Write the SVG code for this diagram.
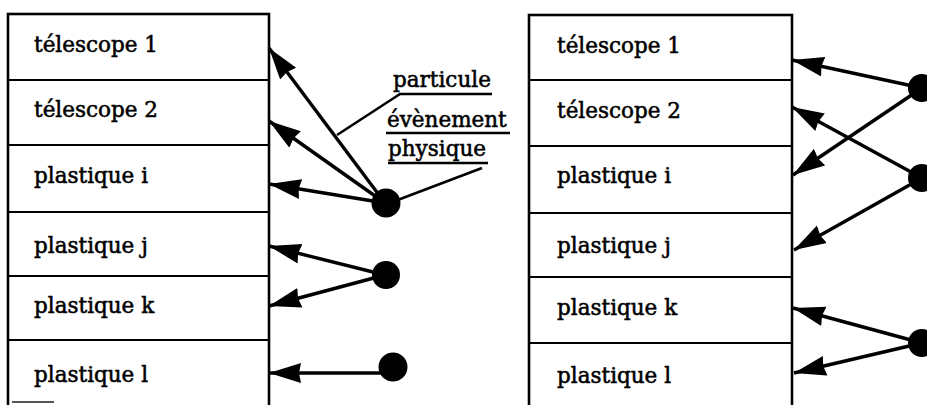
<svg xmlns="http://www.w3.org/2000/svg" width="927" height="405" viewBox="0 0 927 405">
<defs>
<style>
.frame{fill:#fff;stroke:#000;stroke-width:2.6}
.div{stroke:#000;stroke-width:2.2}
.lbl{font-family:DejaVu Serif,serif;font-size:21.5px;fill:#000;stroke:#000;stroke-width:0.55}
.edge{stroke:#000;stroke-width:3.4;fill:none;marker-end:url(#ah)}
.plain{stroke:#000;stroke-width:2.6;fill:none}
.dot{fill:#000}
</style>
<marker id="ah" markerUnits="userSpaceOnUse" markerWidth="34" markerHeight="22" viewBox="0 0 34 22" refX="32" refY="11" orient="auto">
<path d="M0,1 L32,11 L0,21 L2,11 Z" fill="#000"/>
</marker>
</defs>
<rect width="927" height="405" fill="#fff"/>

<g id="left-table">
<rect class="frame" x="8" y="14" width="261" height="400"/>
<line class="div" x1="8" y1="80" x2="269" y2="80"/>
<line class="div" x1="8" y1="145" x2="269" y2="145"/>
<line class="div" x1="8" y1="212" x2="269" y2="212"/>
<line class="div" x1="8" y1="276" x2="269" y2="276"/>
<line class="div" x1="8" y1="340" x2="269" y2="340"/>
<line x1="12" y1="402" x2="54" y2="402" stroke="#555" stroke-width="2"/>
</g>
<g id="L-telescope1"><text class="lbl" font-family="DejaVu Serif" x="34" y="52">télescope 1</text></g>
<g id="L-telescope2"><text class="lbl" font-family="DejaVu Serif" x="34" y="117">télescope 2</text></g>
<g id="L-plastique-i"><text class="lbl" font-family="DejaVu Serif" x="34" y="183">plastique i</text></g>
<g id="L-plastique-j"><text class="lbl" font-family="DejaVu Serif" x="34" y="253">plastique j</text></g>
<g id="L-plastique-k"><text class="lbl" font-family="DejaVu Serif" x="34" y="313">plastique k</text></g>
<g id="L-plastique-l"><text class="lbl" font-family="DejaVu Serif" x="34" y="382">plastique l</text></g>

<g id="right-table">
<rect class="frame" x="529" y="15" width="263" height="400"/>
<line class="div" x1="529" y1="80" x2="792" y2="80"/>
<line class="div" x1="529" y1="146" x2="792" y2="146"/>
<line class="div" x1="529" y1="213" x2="792" y2="213"/>
<line class="div" x1="529" y1="277" x2="792" y2="277"/>
<line class="div" x1="529" y1="343" x2="792" y2="343"/>
</g>
<g id="R-telescope1"><text class="lbl" font-family="DejaVu Serif" x="557" y="53">télescope 1</text></g>
<g id="R-telescope2"><text class="lbl" font-family="DejaVu Serif" x="557" y="118">télescope 2</text></g>
<g id="R-plastique-i"><text class="lbl" font-family="DejaVu Serif" x="557" y="183">plastique i</text></g>
<g id="R-plastique-j"><text class="lbl" font-family="DejaVu Serif" x="557" y="253">plastique j</text></g>
<g id="R-plastique-k"><text class="lbl" font-family="DejaVu Serif" x="557" y="315">plastique k</text></g>
<g id="R-plastique-l"><text class="lbl" font-family="DejaVu Serif" x="557" y="383">plastique l</text></g>

<g id="legend">
<text class="lbl" font-family="DejaVu Serif" x="393" y="87">particule</text>
<text class="lbl" font-family="DejaVu Serif" x="387" y="127">évènement</text>
<text class="lbl" font-family="DejaVu Serif" x="388" y="156">physique</text>
<line class="plain" x1="399" y1="94" x2="492" y2="94"/>
<line class="plain" x1="386" y1="133" x2="510" y2="133"/>
<line class="plain" x1="388" y1="163" x2="488" y2="163"/>
<polyline class="plain" points="337,135 400,94"/>
<line class="plain" x1="395" y1="201" x2="482" y2="168"/>
</g>

<g id="connectors">
<line class="edge" x1="385" y1="203" x2="269" y2="48"/>
<line class="edge" x1="385" y1="203" x2="269" y2="121"/>
<line class="edge" x1="385" y1="203" x2="269" y2="184"/>
<line class="edge" x1="385" y1="275" x2="269" y2="246"/>
<line class="edge" x1="385" y1="275" x2="269" y2="306"/>
<line class="edge" x1="390" y1="373" x2="269" y2="373"/>
<line class="edge" x1="922" y1="88" x2="792" y2="60"/>
<line class="edge" x1="922" y1="88" x2="793" y2="175"/>
<line class="edge" x1="922" y1="178" x2="792" y2="107"/>
<line class="edge" x1="922" y1="178" x2="794" y2="250"/>
<line class="edge" x1="922" y1="343" x2="793" y2="308"/>
<line class="edge" x1="922" y1="343" x2="794" y2="373"/>
</g>

<g id="dot-L1"><circle class="dot" cx="386" cy="203" r="14.5"/></g>
<g id="dot-L2"><circle class="dot" cx="386" cy="275" r="14"/></g>
<g id="dot-L3"><circle class="dot" cx="393" cy="367" r="14.5"/></g>
<g id="dot-R1"><circle class="dot" cx="922" cy="88" r="14"/></g>
<g id="dot-R2"><circle class="dot" cx="922" cy="178" r="14"/></g>
<g id="dot-R3"><circle class="dot" cx="922" cy="343" r="14"/></g>
</svg>
